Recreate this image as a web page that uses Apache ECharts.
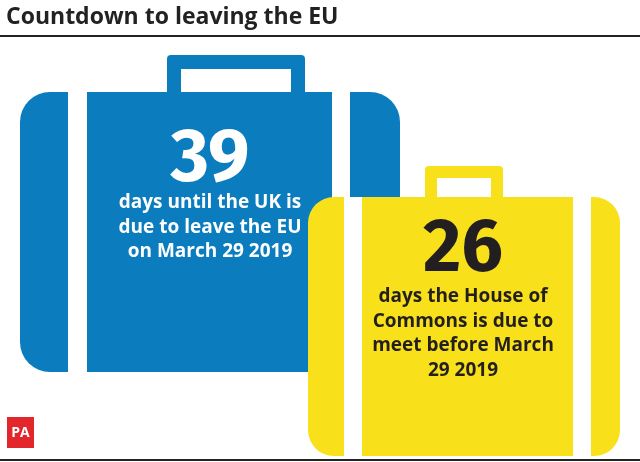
<!DOCTYPE html>
<html>
<head>
<meta charset="utf-8">
<script src="https://cdn.jsdelivr.net/npm/echarts@6/dist/echarts.min.js"></script>
<style>html,body{margin:0;padding:0;background:#fff}#main{width:640px;height:462px}</style>
</head>
<body>
<div id="main"></div>
<script>
// countdown numbers and captions
var titleText = 'Countdown to leaving the EU';
var dayCounts = [39, 26];
var captions = [
    ['days until the UK is', 'due to leave the EU', 'on March 29 2019'],
    ['days the House of', 'Commons is due to', 'meet before March', '29 2019']
];

var chart = echarts.init(document.getElementById('main'));

function suitcase(x, y, w, h, hx, hy, hw, hh, t, stripes, color, r) {
    var els = [
        { type: 'rect', shape: { x: hx, y: hy, width: hw, height: hh + 20, r: 4 }, style: { fill: color } },
        { type: 'rect', shape: { x: hx + t, y: hy + t, width: hw - 2 * t, height: hh }, style: { fill: '#fff' } },
        { type: 'rect', shape: { x: x, y: y, width: w, height: h, r: r }, style: { fill: color } }
    ];
    stripes.forEach(function (s) {
        els.push({ type: 'rect', shape: { x: s[0], y: y, width: s[1], height: h }, style: { fill: '#fff' } });
    });
    return els;
}

function textBlock(cx, numY, lineY, idx, color) {
    var els = [{
        type: 'text', x: cx, y: numY,
        style: { text: String(dayCounts[idx]), fill: color, font: 'bold 74px "Fira Sans","Open Sans",sans-serif', textAlign: 'center', textVerticalAlign: 'middle' }
    }];
    captions[idx].forEach(function (c, i) {
        els.push({
            type: 'text', x: cx, y: lineY + i * 24.5,
            style: { text: c, fill: color, font: 'bold 19px "Open Sans",sans-serif', textAlign: 'center', textVerticalAlign: 'middle' }
        });
    });
    return els;
}

var g = [];
g.push({ type: 'text', x: 6, y: 17, style: { text: titleText, fill: '#222', font: 'bold 23px "Open Sans",sans-serif', textVerticalAlign: 'middle' } });
g.push({ type: 'rect', shape: { x: 0, y: 35, width: 640, height: 2 }, style: { fill: '#222' } });
g.push({ type: 'rect', shape: { x: 0, y: 459, width: 640, height: 2 }, style: { fill: '#222' } });

g = g.concat(suitcase(20, 92, 380, 280, 167, 55, 138, 40, 14, [[68, 19], [332, 18]], '#0b7dbf', 30));
g = g.concat(suitcase(308, 197, 312, 259, 425, 166, 78, 32, 12, [[344, 18], [573, 18]], '#f8e01a', 26));
g = g.concat(textBlock(210, 160, 203, 0, '#fff'));
g = g.concat(textBlock(463, 250, 297, 1, '#231f20'));

g.push({ type: 'rect', shape: { x: 7, y: 417, width: 27, height: 31 }, style: { fill: '#e3262b' } });
g.push({ type: 'text', x: 20.5, y: 433, style: { text: 'PA', fill: '#fff', font: 'bold 14px "Open Sans",sans-serif', textAlign: 'center', textVerticalAlign: 'middle' } });

chart.setOption({ animation: false, graphic: { elements: g } });
</script>
</body>
</html>
